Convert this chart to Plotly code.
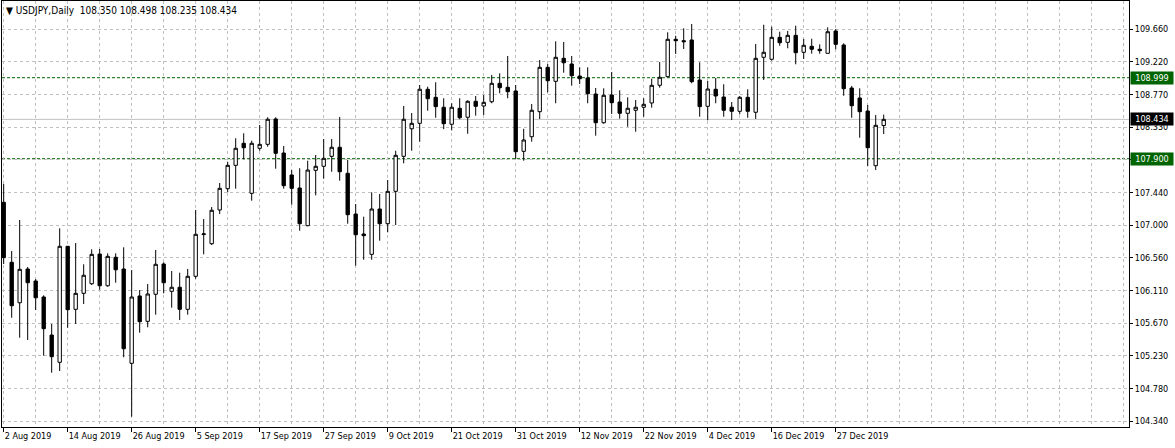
import plotly.graph_objects as go
import pandas as pd

# ---- data ----
dates = [d.strftime("%Y-%m-%d") for d in pd.bdate_range("2019-08-02", "2020-01-07")
         if d.strftime("%m-%d") not in ("12-25", "01-01")]

opens = [107.308, 106.494, 105.945, 106.403, 106.240, 106.023, 105.507, 105.137, 106.711, 105.856,
         106.073, 106.203, 106.606, 106.176, 106.562, 106.403, 105.123, 106.037, 105.693, 106.060,
         106.471, 106.100, 106.155, 105.856, 106.304, 106.870, 106.746, 107.204, 107.493, 107.810,
         108.109, 107.430, 108.041, 108.095, 108.439, 107.977, 107.679, 107.502, 106.991, 107.742,
         107.797, 107.932, 108.055, 107.702, 107.149, 106.878, 106.602, 107.217, 107.018, 107.457,
         107.932, 108.306, 108.380, 108.842, 108.733, 108.598, 108.367, 108.584, 108.462, 108.679,
         108.615, 108.673, 108.923, 108.869, 108.819, 108.000, 108.198, 108.538, 109.140, 108.950,
         109.262, 109.185, 109.022, 108.995, 108.778, 108.388, 108.764, 108.669, 108.516, 108.557,
         108.598, 108.656, 108.896, 109.013, 109.520, 109.501, 109.511, 108.968, 108.611, 108.842,
         108.737, 108.598, 108.543, 108.733, 108.530, 109.276, 109.249, 109.547, 109.479, 109.574,
         109.344, 109.425, 109.385, 109.330, 109.633, 109.443, 108.859, 108.724, 108.547, 107.805,
         108.350]
highs = [107.557, 106.647, 107.068, 106.430, 106.267, 106.046, 105.657, 106.955, 106.715, 106.756,
         106.467, 106.670, 106.674, 106.616, 106.616, 106.698, 106.389, 106.118, 106.199, 106.661,
         106.494, 106.376, 106.353, 106.403, 107.204, 107.081, 107.244, 107.570, 107.859, 108.177,
         108.245, 108.144, 108.357, 108.462, 108.462, 108.072, 107.746, 107.770, 107.873, 107.950,
         108.167, 108.167, 108.466, 107.882, 107.285, 107.113, 107.444, 107.421, 107.611, 108.008,
         108.615, 108.520, 108.900, 108.877, 108.937, 108.720, 108.652, 108.720, 108.692, 108.751,
         108.764, 109.036, 109.059, 109.294, 108.900, 108.306, 108.642, 109.239, 109.185, 109.493,
         109.484, 109.294, 109.140, 109.140, 108.859, 108.855, 109.077, 108.828, 108.733, 108.696,
         108.720, 108.986, 109.212, 109.615, 109.569, 109.670, 109.728, 109.208, 108.954, 108.995,
         108.910, 108.669, 108.751, 108.842, 109.457, 109.718, 109.691, 109.623, 109.633, 109.705,
         109.524, 109.528, 109.452, 109.683, 109.660, 109.466, 108.887, 108.855, 108.629, 108.493,
         108.498]
lows = [106.471, 105.742, 105.471, 105.440, 105.847, 105.226, 104.996, 105.019, 105.606, 105.657,
        105.928, 106.186, 106.122, 106.163, 106.217, 105.205, 104.399, 105.539, 105.612, 105.783,
        106.073, 105.878, 105.711, 105.783, 106.271, 106.602, 106.728, 107.149, 107.444, 107.493,
        107.892, 107.330, 108.008, 108.063, 107.764, 107.493, 107.276, 106.923, 106.983, 107.403,
        107.628, 107.723, 107.601, 107.018, 106.448, 106.529, 106.529, 106.787, 106.901, 107.000,
        107.837, 108.008, 108.131, 108.551, 108.456, 108.301, 108.285, 108.435, 108.239, 108.484,
        108.493, 108.652, 108.787, 108.720, 107.896, 107.873, 108.131, 108.439, 108.801, 108.652,
        109.067, 108.891, 108.914, 108.652, 108.212, 108.375, 108.507, 108.443, 108.334, 108.266,
        108.470, 108.592, 108.863, 109.005, 109.321, 109.389, 108.923, 108.470, 108.421, 108.652,
        108.470, 108.425, 108.502, 108.456, 108.439, 108.968, 109.230, 109.433, 109.398, 109.181,
        109.253, 109.325, 109.325, 109.330, 109.385, 108.755, 108.456, 108.185, 107.798, 107.746,
        108.235]
closes = [106.557, 105.905, 106.399, 106.217, 106.013, 105.593, 105.213, 106.711, 105.851, 106.073,
          106.318, 106.602, 106.176, 106.575, 106.393, 105.321, 106.023, 105.688, 106.064, 106.467,
          106.217, 106.155, 105.856, 106.304, 106.874, 106.880, 107.200, 107.498, 107.810, 108.041,
          108.049, 108.109, 108.095, 108.435, 107.973, 107.534, 107.498, 107.018, 107.746, 107.797,
          107.905, 108.055, 107.723, 107.140, 106.868, 106.855, 107.217, 107.018, 107.457, 107.946,
          108.435, 108.380, 108.842, 108.714, 108.606, 108.375, 108.598, 108.456, 108.679, 108.611,
          108.665, 108.923, 108.863, 108.809, 107.995, 108.154, 108.557, 109.140, 108.958, 109.276,
          109.202, 109.026, 108.985, 108.782, 108.388, 108.760, 108.660, 108.516, 108.584, 108.598,
          108.638, 108.896, 109.005, 109.520, 109.501, 109.488, 108.945, 108.606, 108.846, 108.751,
          108.557, 108.543, 108.733, 108.543, 109.262, 109.344, 109.547, 109.474, 109.574, 109.338,
          109.439, 109.385, 109.366, 109.623, 109.452, 108.850, 108.619, 108.538, 108.049, 108.353,
          108.434]

tick_dates = ["2019-08-02", "2019-08-14", "2019-08-26", "2019-09-05", "2019-09-17", "2019-09-27",
              "2019-10-09", "2019-10-21", "2019-10-31", "2019-11-12", "2019-11-22", "2019-12-04",
              "2019-12-16", "2019-12-27"]
tick_labels = ["2 Aug 2019", "14 Aug 2019", "26 Aug 2019", "5 Sep 2019", "17 Sep 2019", "27 Sep 2019",
               "9 Oct 2019", "21 Oct 2019", "31 Oct 2019", "12 Nov 2019", "22 Nov 2019", "4 Dec 2019",
               "16 Dec 2019", "27 Dec 2019"]
price_ticks = [109.660, 109.220, 108.770, 108.330, 107.890, 107.440, 107.000, 106.560,
               106.110, 105.670, 105.230, 104.780, 104.340]
level_lines = [108.999, 107.900]

symbol = "USDJPY"
timeframe = "Daily"

# ---- figure ----
FONT = "DejaVu Sans Condensed, Liberation Sans, sans-serif"
GRID = "#c0c0c0"
LEVEL_GREEN = "#006400"

xpos = list(range(len(dates)))
tick_pos = [dates.index(d) for d in tick_dates]

fig = go.Figure()
fig.add_trace(go.Candlestick(
    x=xpos, open=opens, high=highs, low=lows, close=closes,
    increasing=dict(line=dict(color="black", width=1), fillcolor="white"),
    decreasing=dict(line=dict(color="black", width=1), fillcolor="black"),
    whiskerwidth=0, hoverinfo="skip", showlegend=False,
))

shapes = []
for lv in level_lines:
    shapes.append(dict(type="line", xref="paper", x0=0, x1=1, yref="y", y0=lv, y1=lv,
                       line=dict(color=LEVEL_GREEN, width=1, dash="3px,2px"), layer="below"))
shapes.append(dict(type="line", xref="paper", x0=0, x1=1, yref="y", y0=closes[-1], y1=closes[-1],
                   line=dict(color=GRID, width=1), layer="below"))

annotations = [dict(
    xref="paper", yref="paper", x=0, y=1, xanchor="left", yanchor="top", xshift=2, yshift=-2,
    showarrow=False, align="left",
    text=f"\u25bc {symbol},{timeframe}\u00a0\u00a0{opens[-1]:.3f} {highs[-1]:.3f} {lows[-1]:.3f} {closes[-1]:.3f}",
    font=dict(family=FONT, size=10, color="black"),
)]
for lv, bg in [(level_lines[0], LEVEL_GREEN), (closes[-1], "black"), (level_lines[1], LEVEL_GREEN)]:
    annotations.append(dict(
        xref="paper", yref="y", x=1, y=lv, xanchor="left", yanchor="middle", xshift=1,
        showarrow=False, text=f"{lv:.3f}", bgcolor=bg, borderpad=1, width=40, align="center",
        font=dict(family=FONT, size=9, color="white"),
    ))

fig.update_layout(
    width=1175, height=448,
    margin=dict(l=2, r=46, t=1, b=21),
    paper_bgcolor="white", plot_bgcolor="white",
    boxgap=0.4,
    shapes=shapes, annotations=annotations,
    font=dict(family=FONT, size=9, color="black"),
    xaxis=dict(
        range=[-0.21, 140.66], rangeslider=dict(visible=False),
        tickmode="array", tickvals=tick_pos, ticktext=tick_labels,
        ticks="outside", ticklen=4, tickcolor="black", ticklabelposition="outside right",
        showline=True, linecolor="black", linewidth=1, mirror=True,
        showgrid=True, gridcolor=GRID, griddash="3px,3px", gridwidth=1, zeroline=False,
        minor=dict(tickmode="linear", tick0=0, dtick=4, showgrid=True, gridcolor=GRID,
                   griddash="3px,3px", ticks=""),
        tickfont=dict(family=FONT, size=9, color="black"),
    ),
    yaxis=dict(
        side="right", range=[104.259, 110.040],
        tickmode="array", tickvals=price_ticks, ticktext=[f"{v:.3f}" for v in price_ticks],
        ticks="outside", ticklen=3, tickcolor="black",
        showline=True, linecolor="black", linewidth=1, mirror=True,
        showgrid=True, gridcolor=GRID, griddash="3px,3px", gridwidth=1, zeroline=False,
        tickfont=dict(family=FONT, size=9, color="black"),
    ),
)

fig.write_html("out.html", config={"displayModeBar": False},
               post_script="document.body.style.margin='0';")
